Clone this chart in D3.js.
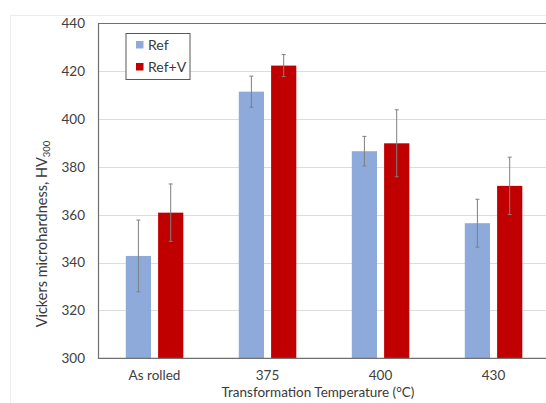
<!DOCTYPE html>
<html>
<head>
<meta charset="utf-8">
<script src="https://cdn.jsdelivr.net/npm/d3@7"></script>
<style>
  html, body { margin: 0; padding: 0; background: #fff; }
  svg { display: block; }
  text { font-family: Lato, "Open Sans", sans-serif; fill: #404040; }
</style>
</head>
<body>
<div id="chart"></div>
<script>
const categories = ["As rolled", "375", "400", "430"];
const seriesNames = ["Ref", "Ref+V"];
const refValues = [342.8, 411.5, 386.6, 356.5];
const refErrors = [15, 6.5, 6.2, 10];
const refVValues = [360.9, 422.4, 389.9, 372.1];
const refVErrors = [12, 4.6, 14, 12];
const yTicks = [300, 320, 340, 360, 380, 400, 420, 440];
const colors = ["#8eaadb", "#c00000"];

const W = 546, H = 403;
const plot = { left: 98, right: 550, top: 23.5, bottom: 358.3 };

const svg = d3.select("#chart").append("svg").attr("width", W).attr("height", H);

// outer chart frame
svg.append("rect").attr("x", 10.5).attr("y", 15.5).attr("width", 600).attr("height", 500)
  .attr("fill", "none").attr("stroke", "#ececec").attr("stroke-width", 1);

const x0 = d3.scaleBand().domain(categories).range([plot.left, plot.right]).paddingInner(0).paddingOuter(0);
const x1 = d3.scaleBand().domain(seriesNames).range([27.8, 85.3]).paddingInner(0.22);
const y = d3.scaleLinear().domain([300, 440]).range([plot.bottom, plot.top]);

// gridlines
svg.append("g").selectAll("line").data(yTicks.slice(1, -1)).join("line")
  .attr("x1", plot.left).attr("x2", plot.right)
  .attr("y1", d => Math.round(y(d)) + 0.5).attr("y2", d => Math.round(y(d)) + 0.5)
  .attr("stroke", "#dcdcdc").attr("stroke-width", 1.2);

// data rows
const rows = categories.map((c, i) => ({
  cat: c,
  vals: [
    { s: "Ref", v: refValues[i], e: refErrors[i], color: colors[0] },
    { s: "Ref+V", v: refVValues[i], e: refVErrors[i], color: colors[1] }
  ]
}));

const groups = svg.append("g").selectAll("g").data(rows).join("g")
  .attr("transform", d => `translate(${x0(d.cat)},0)`);

groups.selectAll("rect").data(d => d.vals).join("rect")
  .attr("x", d => x1(d.s)).attr("width", x1.bandwidth())
  .attr("y", d => y(d.v)).attr("height", d => y(300) - y(d.v))
  .attr("fill", d => d.color);

// error bars
const eb = groups.selectAll("g.err").data(d => d.vals).join("g").attr("class", "err");
eb.append("line")
  .attr("x1", d => x1(d.s) + x1.bandwidth() / 2).attr("x2", d => x1(d.s) + x1.bandwidth() / 2)
  .attr("y1", d => y(d.v + d.e)).attr("y2", d => y(d.v - d.e))
  .attr("stroke", "#7f7f7f").attr("stroke-width", 1);
eb.selectAll("line.cap").data(d => [{ d, k: 1 }, { d, k: -1 }]).join("line").attr("class", "cap")
  .attr("x1", o => x1(o.d.s) + x1.bandwidth() / 2 - 2).attr("x2", o => x1(o.d.s) + x1.bandwidth() / 2 + 2)
  .attr("y1", o => y(o.d.v + o.k * o.d.e)).attr("y2", o => y(o.d.v + o.k * o.d.e))
  .attr("stroke", "#7f7f7f").attr("stroke-width", 1);

// plot border (top, left, bottom)
svg.append("path")
  .attr("d", `M${plot.right},${plot.top}H${plot.left + 0.5}V${plot.bottom}H${plot.right}`)
  .attr("fill", "none").attr("stroke", "#707070").attr("stroke-width", 1.2);

// y axis labels
const yAxis = d3.axisLeft(y).tickValues(yTicks).tickSize(0).tickPadding(13);
const gy = svg.append("g").attr("transform", `translate(${plot.left},0)`).call(yAxis);
gy.select(".domain").remove();
gy.selectAll("text").style("font-family", "Lato, sans-serif").style("font-size", "13.5px").attr("fill", "#3a3a3a");

// x axis labels
const xAxis = d3.axisBottom(x0).tickSize(0).tickPadding(12);
const gx = svg.append("g").attr("transform", `translate(0,${plot.bottom})`).call(xAxis);
gx.select(".domain").remove();
gx.selectAll("text").style("font-family", "Lato, sans-serif").style("font-size", "13.5px").attr("fill", "#3a3a3a");

// x axis title
svg.append("text").attr("x", 318).attr("y", 397).attr("text-anchor", "middle")
  .style("font-size", "13.5px").style("fill", "#3a3a3a").text("Transformation Temperature (°C)");

// y axis title
const yt = svg.append("text").attr("transform", "translate(47,234) rotate(-90)")
  .attr("text-anchor", "middle").style("font-size", "14.5px").style("fill", "#3a3a3a");
yt.append("tspan").text("Vickers microhardness, HV");
yt.append("tspan").attr("dy", 3).style("font-size", "9.5px").text("300");

// legend
const lg = svg.append("g");
lg.append("rect").attr("x", 126).attr("y", 33.5).attr("width", 64).attr("height", 46)
  .attr("fill", "#fff").attr("stroke", "#595959").attr("stroke-width", 1);
const li = lg.selectAll("g.li").data(seriesNames).join("g").attr("class", "li")
  .attr("transform", (d, i) => `translate(136,${41 + i * 22})`);
li.append("rect").attr("width", 7.5).attr("height", 7.5).attr("fill", (d, i) => colors[i]);
li.append("text").attr("x", 12).attr("y", 8.5).style("font-size", "14px").style("fill", "#3a3a3a").text(d => d);
</script>
</body>
</html>
